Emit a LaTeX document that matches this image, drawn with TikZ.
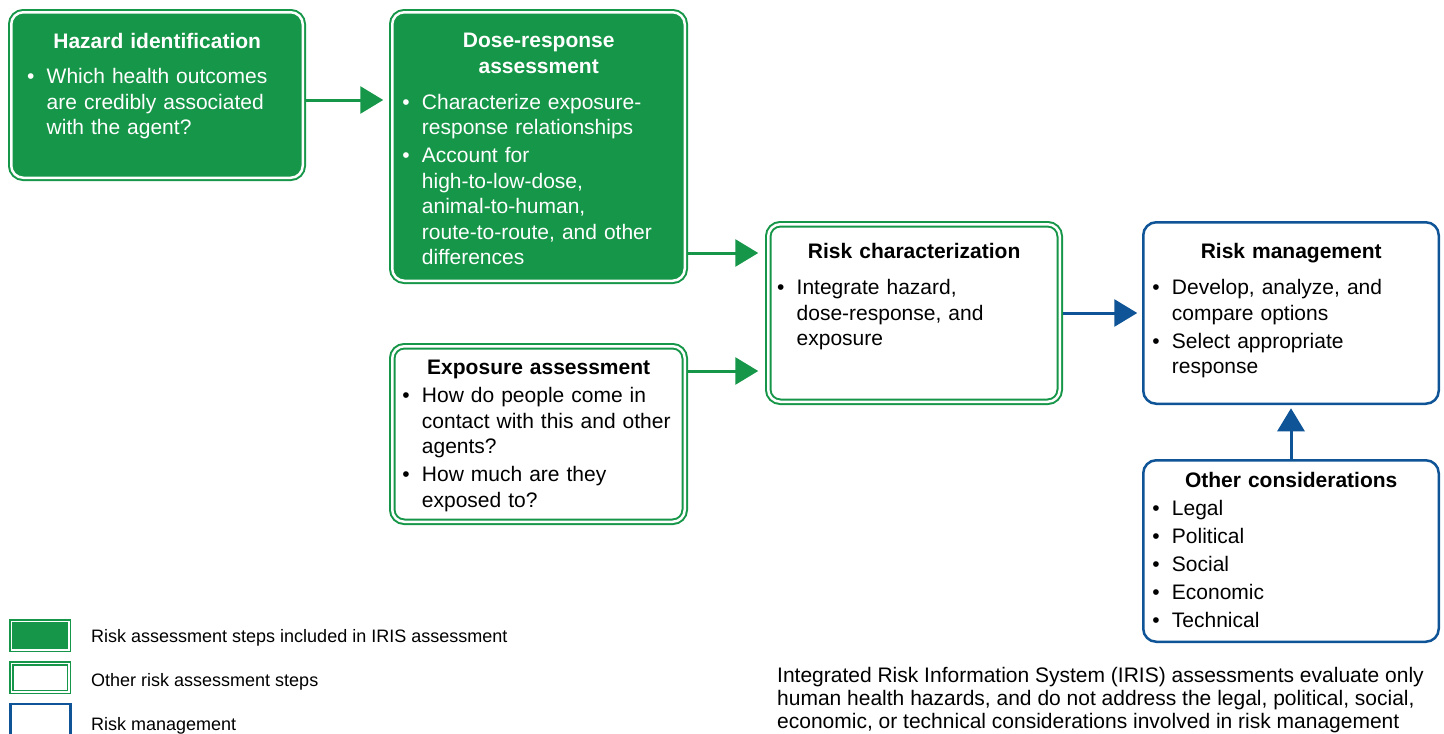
\documentclass[tikz,border=0pt]{standalone}
\usepackage{fontspec}
\setmainfont{Liberation Sans}
\usepackage{xcolor}
\usetikzlibrary{arrows.meta,shapes,positioning,calc}

\definecolor{irisgreen}{RGB}{22,150,72}
\definecolor{mgmtblue}{RGB}{14,84,150}

\newlength{\bind}
\setlength{\bind}{19.5pt}
\newcommand{\itm}[1]{\hangindent=\bind\hangafter=1\noindent\makebox[\bind][l]{\textbullet}#1\par}
\newcommand{\boxhead}[2][0pt]{{\centering\bfseries #2\par}\setlength{\parskip}{2.5pt}\vspace{#1}}
\newcommand{\nl}{\hfil\break}

\tikzset{
    incbox/.style={draw=irisgreen, fill=irisgreen, line width=2pt, double=white,
        double distance=2.5pt, rounded corners=12pt, outer sep=0pt, inner sep=0pt},
    othbox/.style={incbox, fill=white},
    mgmtbox/.style={draw=mgmtblue, fill=white, line width=2.5pt, rounded corners=13pt,
        outer sep=0pt, inner sep=0pt},
    boxtext/.style={anchor=north west, inner sep=0pt, align=left,
        font=\fontsize{21}{25.5}\selectfont},
    garr/.style={draw=irisgreen, line width=3pt, -{Triangle[length=23pt,width=27pt]}},
    barr/.style={garr, draw=mgmtblue},
    legbox/.style={draw=irisgreen, line width=1.5pt, double=white, double distance=1.5pt,
        minimum width=57.5pt, minimum height=28.5pt, outer sep=0pt, inner sep=0pt},
    legtext/.style={anchor=base west, inner sep=0pt, font=\fontsize{18}{21}\selectfont}
}

\begin{document}
\begin{tikzpicture}[x=1pt, y=-1pt]
    \useasboundingbox (0,0) rectangle (1444,734);

    % boxes
    \node[incbox, minimum width=291.5pt, minimum height=165.5pt] (haz) at (157,95) {};
    \node[incbox, minimum width=292.5pt, minimum height=268.5pt] (dose) at (538.5,146.5) {};
    \node[othbox, minimum width=292.5pt, minimum height=175.5pt] (expo) at (538.5,434) {};
    \node[othbox, minimum width=291.5pt, minimum height=177.5pt] (rc) at (914,313) {};
    \node[mgmtbox, minimum width=295.5pt, minimum height=181.5pt] (rm) at (1291,313) {};
    \node[mgmtbox, minimum width=295.5pt, minimum height=181.5pt] (other) at (1291,551) {};

    % box texts
    \node[boxtext, text=white, text width=260pt] (hazT) at ([xshift=15.75pt, yshift=-21pt]haz.north west)
        {\boxhead[7pt]{Hazard identification}%
         \itm{Which health outcomes\nl are credibly associated\nl with the agent?}};
    \node[boxtext, text=white, text width=272.5pt] (doseT) at ([xshift=10pt, yshift=-21pt]dose.north west)
        {\boxhead[8pt]{Dose-response\\assessment}%
         \itm{Characterize exposure-\nl response relationships}%
         \itm{Account for\nl high-to-low-dose,\nl animal-to-human,\nl route-to-route, and other\nl differences}};
    \node[boxtext, text width=272.5pt] (expoT) at ([xshift=10pt, yshift=-14pt]expo.north west)
        {\boxhead{Exposure assessment}%
         \itm{How do people come in\nl contact with this and other\nl agents?}%
         \itm{How much are they\nl exposed to?}};
    \node[boxtext, text width=274pt] (rcT) at ([xshift=8.75pt, yshift=-19pt]rc.north west)
        {\boxhead[8pt]{Risk characterization}%
         \itm{Integrate hazard,\nl dose-response, and\nl exposure}};
    \node[boxtext, text width=277.5pt] (rmT) at ([xshift=9pt, yshift=-21pt]rm.north west)
        {\boxhead[8pt]{Risk management}%
         \itm{Develop, analyze, and\nl compare options}%
         \itm{Select appropriate\nl response}};
    \node[boxtext, text width=277.5pt] (otherT) at ([xshift=9pt, yshift=-12pt]other.north west)
        {\boxhead{Other considerations}%
         \itm{Legal}\itm{Political}\itm{Social}\itm{Economic}\itm{Technical}};

    % arrows
    \coordinate (hazout) at ([yshift=-5pt]haz.east);
    \coordinate (rcin1) at ([yshift=60pt]rc.west);
    \coordinate (rcin2) at ([yshift=-58pt]rc.west);
    \draw[garr, shorten <=3.25pt, shorten >=9pt] (hazout) -- (hazout -| dose.west);
    \draw[garr, shorten <=3.25pt, shorten >=10pt] (rcin1 -| dose.east) -- (rcin1);
    \draw[garr, shorten <=3.25pt, shorten >=10pt] (rcin2 -| expo.east) -- (rcin2);
    \draw[barr, shorten <=3.25pt, shorten >=6pt] (rc.east) -- (rm.west);
    \draw[barr, shorten <=1.25pt, shorten >=4.5pt] (other.north) -- (rm.south);

    % legend
    \node[legbox, fill=irisgreen] (lg1) at (40.2,635.8) {};
    \node[legbox, fill=white] (lg2) at (40.2,677.5) {};
    \node[draw=mgmtblue, line width=2.5pt, fill=white, minimum width=60.25pt,
        minimum height=46pt, outer sep=0pt, inner sep=0pt] (lg3) at (40.4,727) {};
    \node[legtext] (lt1) at (91,642.3) {Risk assessment steps included in IRIS assessment};
    \node[legtext] (lt2) at (91,686.9) {Other risk assessment steps};
    \node[legtext] (lt3) at (91,730.7) {Risk management};

    % note
    \node[anchor=north west, inner sep=0pt, align=left, font=\fontsize{21}{23}\selectfont] (note) at (777,667.2)
        {Integrated Risk Information System (IRIS) assessments evaluate only\\
         human health hazards, and do not address the legal, political, social,\\
         economic, or technical considerations involved in risk management};
\end{tikzpicture}
\end{document}
